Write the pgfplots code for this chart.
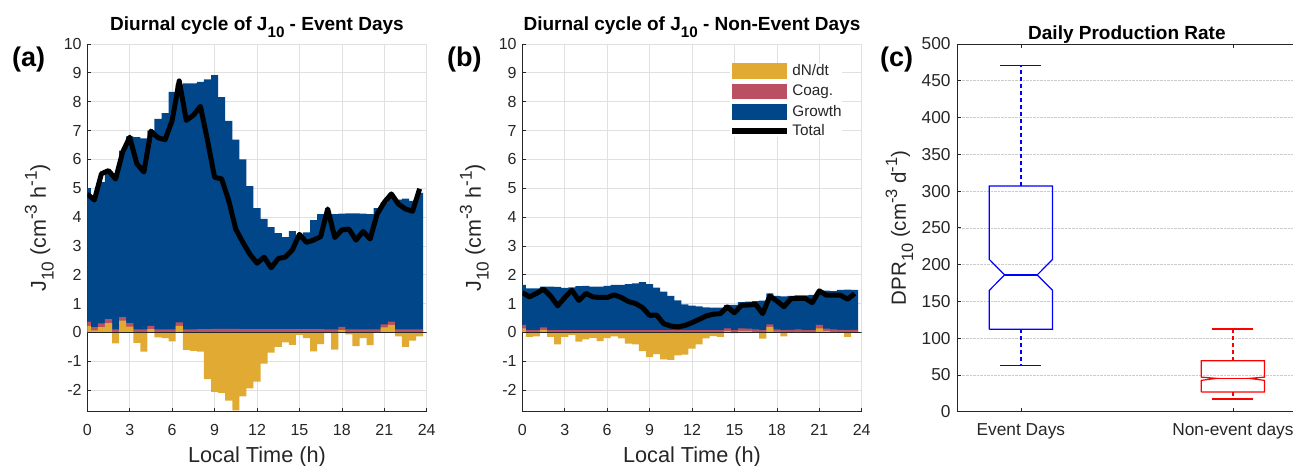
\documentclass[border=0pt]{standalone}
\usepackage{fontspec}
\setmainfont{Liberation Sans}
\usepackage{graphicx}
\usepackage{pgfplots}
\usepackage{pgfplotstable}
\pgfplotsset{compat=1.18}

\definecolor{cDn}{HTML}{E0AA33}
\definecolor{cCoag}{HTML}{BC5063}
\definecolor{cGrowth}{HTML}{02468A}
\definecolor{axcol}{HTML}{262626}

% MATLAB-like sub/superscripts (larger than LaTeX's)
\newcommand{\msub}[1]{\raisebox{-0.36em}{\scalebox{0.8}{#1}}}
\newcommand{\msup}[1]{\raisebox{0.42em}{\scalebox{0.8}{#1}}}

% diurnal cycle, event days: dN/dt, top of coag layer, top of growth layer, total
\pgfplotstableread{
t dn ctop gtop tot
0.0 0.23 0.37 5.00 4.80
0.5 0.07 0.18 4.70 4.59
1.0 0.18 0.31 5.21 5.50
1.5 0.32 0.46 5.60 5.61
2.0 -0.38 0.10 5.45 5.32
2.5 0.41 0.53 6.30 6.25
3.0 0.20 0.32 6.80 6.77
3.5 -0.36 0.10 6.77 5.85
4.0 -0.67 0.10 6.73 5.56
4.5 0.11 0.23 7.00 6.98
5.0 -0.17 0.10 7.40 6.75
5.5 -0.20 0.10 7.60 6.68
6.0 -0.31 0.10 8.34 7.35
6.5 0.23 0.35 8.60 8.72
7.0 -0.61 0.10 8.63 7.35
7.5 -0.64 0.10 8.63 7.53
8.0 -0.67 0.11 8.69 7.84
8.5 -1.62 0.11 8.77 6.66
9.0 -2.06 0.12 8.92 5.38
9.5 -2.10 0.12 8.16 5.32
10.0 -2.37 0.12 7.33 4.57
10.5 -2.70 0.12 6.68 3.58
11.0 -2.22 0.11 6.00 3.12
11.5 -1.94 0.11 5.07 2.71
12.0 -1.71 0.11 4.31 2.40
12.5 -1.08 0.11 3.94 2.61
13.0 -0.70 0.11 3.65 2.24
13.5 -0.50 0.11 3.44 2.56
14.0 -0.35 0.11 3.30 2.61
14.5 -0.43 0.11 3.51 2.86
15.0 -0.09 0.11 3.35 3.40
15.5 -0.20 0.11 3.47 3.12
16.0 -0.66 0.11 3.89 3.20
16.5 -0.41 0.11 4.10 3.32
17.0 -0.03 0.10 4.08 4.28
17.5 -0.60 0.10 4.10 3.29
18.0 0.08 0.19 4.12 3.55
18.5 -0.07 0.10 4.13 3.58
19.0 -0.48 0.10 4.13 3.20
19.5 -0.20 0.10 4.12 3.50
20.0 -0.44 0.10 4.10 3.24
20.5 0.00 0.10 4.31 4.11
21.0 0.17 0.28 4.50 4.51
21.5 0.26 0.37 4.78 4.80
22.0 -0.14 0.10 4.60 4.45
22.5 -0.50 0.10 4.64 4.28
23.0 -0.29 0.10 4.56 4.20
23.5 -0.14 0.10 4.84 4.98
}\dataEvent

% diurnal cycle, non-event days
\pgfplotstableread{
t dn ctop gtop tot
0.0 0.14 0.26 1.65 1.38
0.5 -0.16 0.08 1.53 1.23
1.0 -0.14 0.08 1.53 1.35
1.5 0.09 0.17 1.59 1.50
2.0 -0.16 0.08 1.59 1.26
2.5 -0.42 0.08 1.58 0.92
3.0 -0.16 0.08 1.54 1.21
3.5 -0.09 0.08 1.56 1.46
4.0 -0.32 0.08 1.60 1.11
4.5 -0.24 0.08 1.61 1.35
5.0 -0.19 0.08 1.59 1.23
5.5 -0.30 0.08 1.59 1.21
6.0 -0.20 0.08 1.61 1.21
6.5 -0.14 0.08 1.65 1.30
7.0 -0.21 0.08 1.65 1.21
7.5 -0.39 0.08 1.67 1.07
8.0 -0.42 0.08 1.70 1.00
8.5 -0.65 0.08 1.74 0.86
9.0 -0.86 0.08 1.67 0.59
9.5 -0.75 0.08 1.55 0.60
10.0 -0.94 0.08 1.41 0.30
10.5 -0.95 0.08 1.27 0.22
11.0 -0.80 0.08 1.11 0.19
11.5 -0.77 0.08 0.97 0.24
12.0 -0.56 0.08 0.93 0.34
12.5 -0.42 0.08 0.90 0.45
13.0 -0.21 0.08 0.87 0.57
13.5 -0.13 0.08 0.86 0.63
14.0 -0.16 0.08 0.86 0.65
14.5 0.05 0.14 0.95 0.88
15.0 -0.03 0.08 0.95 0.68
15.5 0.05 0.14 1.05 0.94
16.0 0.05 0.13 1.07 0.95
16.5 0.02 0.10 1.08 0.97
17.0 -0.22 0.08 1.10 0.65
17.5 0.19 0.28 1.35 1.26
18.0 0.03 0.10 1.27 1.09
18.5 -0.14 0.08 1.25 0.89
19.0 0.01 0.09 1.27 1.17
19.5 0.02 0.10 1.28 1.18
20.0 0.00 0.08 1.28 1.18
20.5 -0.03 0.08 1.30 1.03
21.0 0.14 0.26 1.42 1.44
21.5 0.05 0.13 1.45 1.29
22.0 0.02 0.10 1.43 1.29
22.5 0.01 0.09 1.47 1.29
23.0 -0.16 0.08 1.48 1.15
23.5 0.01 0.09 1.47 1.35
}\dataNonEvent

\pgfplotsset{
  common/.style={
    scale only axis, height=367.7bp, anchor=south west,
    axis line style={axcol, line width=0.7bp},
    major tick style={axcol, line width=0.7bp}, major tick length=4bp, tick align=inside,
    /pgf/number format/assume math mode=true,
    yticklabel style={anchor=east, inner sep=0pt},
    every axis title/.style={at={(axis description cs:0.5,1)}, anchor=base,
      font=\bfseries\fontsize{19bp}{22bp}\selectfont},
    every axis x label/.style={at={(axis description cs:0.5,0)}, anchor=base, yshift=-51bp,
      font=\fontsize{21.7bp}{24bp}\selectfont, text=axcol},
    every axis y label/.style={rotate=90, anchor=base, text=axcol},
  },
  diurnal/.style={
    common, width=339.4bp,
    xmin=0, xmax=24, ymin=-2.75, ymax=10,
    xtick={0,3,...,24}, ytick={-2,-1,...,10},
    axis x line*=bottom, axis y line*=left,
    grid=major, grid style={black!12, line width=0.7bp},
    tick label style={font=\fontsize{16bp}{19bp}\selectfont, text=axcol},
    xticklabel style={anchor=base, yshift=-23.5bp},
    yticklabel style={xshift=-5.5bp},
    title style={yshift=13.3bp},
    xlabel={Local Time (h)},
    ylabel={J\msub{10} (cm\msup{-3} h\msup{-1})},
    ylabel style={at={(axis description cs:-0.1223,0.5)}, font=\fontsize{21.5bp}{24bp}\selectfont},
  },
  bars/.style={ybar, bar width=0.5, bar shift=0pt, draw=none},
  total/.style={black, line width=5bp, line join=round, mark=none},
}

\begin{document}
\begin{tikzpicture}[x=1bp, y=1bp]
\useasboundingbox (0,0) rectangle (1293,466);

% (a) event days
\begin{axis}[diurnal, at={(87.3bp,54.3bp)},
  title={Diurnal cycle of J\msub{10} - Event Days}]
\addplot[bars, fill=cGrowth] table[x=t, y=gtop] {\dataEvent};
\addplot[bars, fill=cCoag] table[x=t, y=ctop] {\dataEvent};
\addplot[bars, fill=cDn] table[x=t, y=dn] {\dataEvent};
\draw[axcol, line width=0.8bp] (axis cs:0,0) -- (axis cs:24,0);
\addplot[total] table[x=t, y=tot] {\dataEvent};
\end{axis}

% (b) non-event days
\begin{axis}[diurnal, at={(522.3bp,54.3bp)},
  title={Diurnal cycle of J\msub{10} - Non-Event Days},
  legend style={at={(axis description cs:0.6099,0.9475)}, anchor=north west,
    draw=none, fill=white, inner sep=0pt, row sep=5.5bp,
    font=\fontsize{15.3bp}{17bp}\selectfont, text=axcol,
    nodes={inner sep=0pt},
    /tikz/every odd column/.append style={column sep=3bp}},
  legend cell align=left]
\addlegendimage{legend image code/.code={\fill[cDn] (0bp,-7.25bp) rectangle (54.4bp,7.25bp);}}
\addlegendentry{dN/dt}
\addlegendimage{legend image code/.code={\fill[cCoag] (0bp,-7.25bp) rectangle (54.4bp,7.25bp);}}
\addlegendentry{Coag.}
\addlegendimage{legend image code/.code={\fill[cGrowth] (0bp,-7.25bp) rectangle (54.4bp,7.25bp);}}
\addlegendentry{Growth}
\addlegendimage{legend image code/.code={\draw[black, line width=5.5bp] (0bp,0bp) -- (54.4bp,0bp);}}
\addlegendentry{Total}
\addplot[bars, fill=cGrowth, forget plot] table[x=t, y=gtop] {\dataNonEvent};
\addplot[bars, fill=cCoag, forget plot] table[x=t, y=ctop] {\dataNonEvent};
\addplot[bars, fill=cDn, forget plot] table[x=t, y=dn] {\dataNonEvent};
\draw[axcol, line width=0.8bp] (axis cs:0,0) -- (axis cs:24,0);
\addplot[total, forget plot] table[x=t, y=tot] {\dataNonEvent};
\end{axis}

% (c) daily production rate
\begin{axis}[common, at={(957.3bp,54.3bp)}, width=339.2bp,
  xmin=0.7, xmax=2.3, ymin=0, ymax=500,
  xtick={1,2}, xticklabels={Event Days, Non-event days},
  ytick={0,50,...,500},
  ymajorgrids, grid style={densely dotted, black!20, line width=0.6bp},
  tick label style={font=\fontsize{17.3bp}{20bp}\selectfont, text=axcol},
  xticklabel style={anchor=base, yshift=-24.3bp},
  yticklabel style={xshift=-6.6bp},
  title={Daily Production Rate}, title style={yshift=4.7bp},
  ylabel={DPR\msub{10} (cm\msup{-3} d\msup{-1})},
  ylabel style={at={(axis description cs:-0.152,0.5)}, font=\fontsize{20.5bp}{23bp}\selectfont}]
% event days box (notched)
\addplot[blue, line width=1.2bp, mark=none] coordinates {
  (0.851,112) (1.149,112) (1.149,165) (1.077,186) (1.149,207) (1.149,307)
  (0.851,307) (0.851,207) (0.923,186) (0.851,165) (0.851,112)};
\addplot[blue, line width=1.2bp, mark=none] coordinates {(0.923,186) (1.077,186)};
\addplot[blue, line width=1.2bp, dash pattern=on 4bp off 3bp, mark=none] coordinates {(1,307) (1,471)};
\addplot[blue, line width=1.2bp, dash pattern=on 4bp off 3bp, mark=none] coordinates {(1,112) (1,62.6)};
\addplot[blue, line width=1.2bp, mark=none] coordinates {(0.903,471) (1.097,471)};
\addplot[blue, line width=1.2bp, mark=none] coordinates {(0.903,62.6) (1.097,62.6)};
% non-event days box (notched)
\addplot[red, line width=1.2bp, mark=none] coordinates {
  (1.851,26.7) (2.149,26.7) (2.149,42.6) (2.077,45.3) (2.149,47.0) (2.149,69.4)
  (1.851,69.4) (1.851,47.0) (1.923,45.3) (1.851,42.6) (1.851,26.7)};
\addplot[red, line width=1.2bp, mark=none] coordinates {(1.923,45.3) (2.077,45.3)};
\addplot[red, line width=1.2bp, dash pattern=on 4bp off 3bp, mark=none] coordinates {(2,69.4) (2,112.4)};
\addplot[red, line width=1.2bp, dash pattern=on 4bp off 3bp, mark=none] coordinates {(2,26.7) (2,17.2)};
\addplot[red, line width=1.2bp, mark=none] coordinates {(1.903,112.4) (2.097,112.4)};
\addplot[red, line width=1.2bp, mark=none] coordinates {(1.903,17.2) (2.097,17.2)};
\end{axis}

\node[anchor=base west, inner sep=0pt, font=\bfseries\fontsize{27bp}{30bp}\selectfont] at (12,399.3) {(a)};
\node[anchor=base west, inner sep=0pt, font=\bfseries\fontsize{27bp}{30bp}\selectfont] at (447,399.3) {(b)};
\node[anchor=base west, inner sep=0pt, font=\bfseries\fontsize{27bp}{30bp}\selectfont] at (880,399.3) {(c)};
\end{tikzpicture}
\end{document}
